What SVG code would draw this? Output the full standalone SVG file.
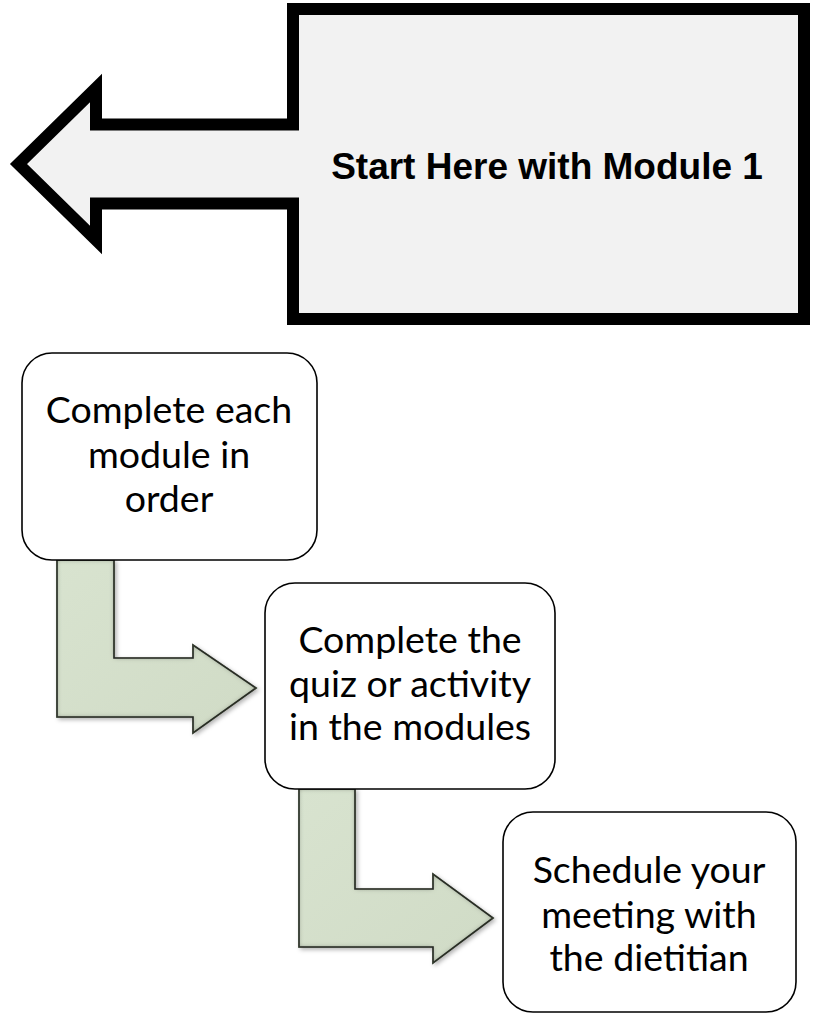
<svg xmlns="http://www.w3.org/2000/svg" width="814" height="1016" viewBox="0 0 814 1016">
<style>
.callout{fill:#f2f2f2;stroke:#000;stroke-width:12;stroke-linejoin:miter}
.title{font-family:"Liberation Sans",Arial,sans-serif;font-weight:bold;font-size:37px;fill:#000;text-anchor:middle}
.box{fill:#fff;stroke:#000;stroke-width:1.6}
.lbl{font-family:Lato,"Open Sans",sans-serif;font-size:37.5px;fill:#000;text-anchor:middle}
.bent{fill:url(#sage);stroke:#1e1e1e;stroke-width:1.6;stroke-linejoin:miter;filter:url(#bevel)}
</style>
<defs>
<linearGradient id="sage" x1="0" y1="0" x2="1" y2="1">
<stop offset="0" stop-color="#d8e3cf"/>
<stop offset="1" stop-color="#d0dbc6"/>
</linearGradient>
<filter id="bevel" x="-10%" y="-10%" width="130%" height="130%">
<feComponentTransfer in="SourceAlpha" result="inv"><feFuncA type="table" tableValues="1 0"/></feComponentTransfer>
<feGaussianBlur in="inv" stdDeviation="2.5" result="invb"/>
<feFlood flood-color="#3c4534" flood-opacity="1"/>
<feComposite in2="invb" operator="in"/>
<feComposite in2="SourceAlpha" operator="in" result="inner"/>
<feGaussianBlur in="SourceAlpha" stdDeviation="2" result="sb"/>
<feOffset in="sb" dx="2" dy="2" result="so"/>
<feFlood flood-color="#000" flood-opacity="0.3"/>
<feComposite in2="so" operator="in" result="shadow"/>
<feMerge><feMergeNode in="shadow"/><feMergeNode in="SourceGraphic"/><feMergeNode in="inner"/></feMerge>
</filter>
</defs>
<g id="connectors">
<polygon class="bent" points="57,560 114,560 114,658 193,658 193,645 256,688 193,733 193,717 57,717"/>
<polygon class="bent" points="299,789 355,789 355,889 433,889 433,874 493,918 433,963 433,947 299,947"/>
</g>
<g id="start-here">
<polygon class="callout" points="293,9 804,9 804,319 293,319 293,203.5 96,203.5 96,240 18.5,164 96,88 96,124.5 293,124.5"/>
<text class="title" x="547" y="179">Start Here with Module 1</text>
</g>
<g id="step1">
<rect class="box" x="22" y="353" width="295" height="207" rx="30"/>
<text class="lbl" x="169" y="423">Complete each</text>
<text class="lbl" x="169" y="468">module in</text>
<text class="lbl" x="169" y="512">order</text>
</g>
<g id="step2">
<rect class="box" x="265" y="583" width="290" height="206" rx="30"/>
<text class="lbl" x="410" y="653">Complete the</text>
<text class="lbl" x="410" y="697">quiz or activity</text>
<text class="lbl" x="410" y="740">in the modules</text>
</g>
<g id="step3">
<rect class="box" x="503" y="812" width="293" height="200" rx="30"/>
<text class="lbl" x="649" y="883">Schedule your</text>
<text class="lbl" x="649" y="928">meeting with</text>
<text class="lbl" x="649" y="971">the dietitian</text>
</g>
</svg>
